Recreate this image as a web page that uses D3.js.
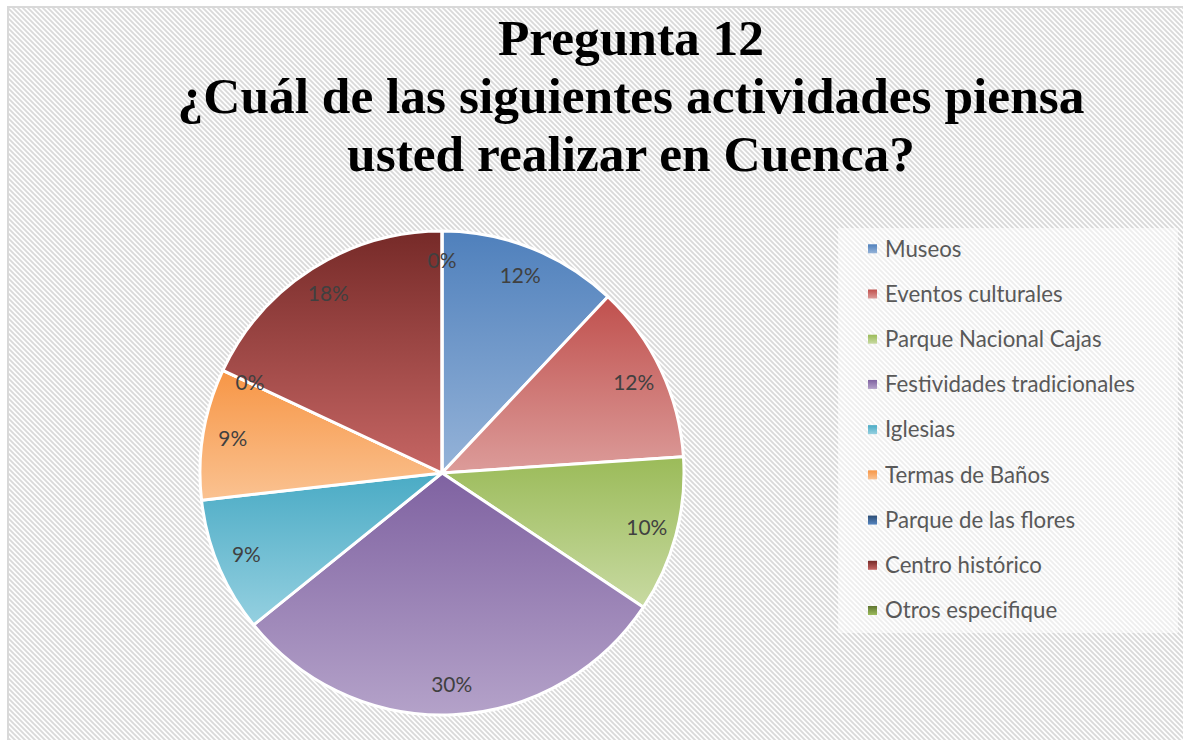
<!DOCTYPE html>
<html>
<head>
<meta charset="utf-8">
<script src="https://cdn.jsdelivr.net/npm/d3@7"></script>
<style>
  html, body { margin: 0; padding: 0; background: #ffffff; }
  svg { display: block; }
</style>
</head>
<body>
<svg id="chart" width="1183" height="740"></svg>
<script>
// ---- data ----
const titleLines = ["Pregunta 12", "¿Cuál de las siguientes actividades piensa", "usted realizar en Cuenca?"];
const categories = ["Museos", "Eventos culturales", "Parque Nacional Cajas", "Festividades tradicionales",
  "Iglesias", "Termas de Baños", "Parque de las flores", "Centro histórico", "Otros especifique"];
const values = [12.0, 11.9, 10.4, 29.8, 9.0, 8.75, 0, 18.0, 0];

// ---- palette (gradient top / bottom) ----
const topColors = ["#4f80bc", "#c0504d", "#9bbb59", "#7f62a1", "#4aabc5", "#f79646", "#2c4d75", "#762a28", "#5f7530"];
const bottomColors = ["#95b3d8", "#dc9c9a", "#c8daa2", "#b4a2c9", "#95d0e0", "#fac291", "#5585c0", "#c66664", "#9cbc5c"];

const W = 1183, H = 740;
const svg = d3.select("#chart");
const defs = svg.append("defs");

// background stripe pattern ("\" diagonal)
const p = 5;
const pat = defs.append("pattern").attr("id", "stripes").attr("patternUnits", "userSpaceOnUse")
  .attr("width", p).attr("height", p);
pat.append("rect").attr("width", p).attr("height", p).attr("fill", "#ffffff");
pat.append("path")
  .attr("d", `M${-p},0 L${p},${2*p} M0,${-p} L${2*p},${p} M${-p},${-p} L${2*p},${2*p}`)
  .attr("stroke", "#d9d9d9").attr("stroke-width", 1.8).attr("fill", "none");

// gradients
categories.forEach((c, i) => {
  const g = defs.append("linearGradient").attr("id", "grad" + i)
    .attr("x1", 0).attr("y1", 0).attr("x2", 0).attr("y2", 1);
  g.append("stop").attr("offset", "0%").attr("stop-color", topColors[i]);
  g.append("stop").attr("offset", "100%").attr("stop-color", bottomColors[i]);
});

// chart area
svg.append("rect").attr("x", 0).attr("y", 0).attr("width", W).attr("height", H).attr("fill", "#ffffff");
svg.append("rect").attr("x", 8).attr("y", 7).attr("width", W + 20).attr("height", H + 20)
  .attr("fill", "url(#stripes)").attr("stroke", "#d9d9d9").attr("stroke-width", 2);

// ---- title ----
const titleFont = "'Liberation Serif', 'Times New Roman', serif";
const probe = svg.append("text").attr("font-family", titleFont).attr("font-weight", "bold")
  .attr("font-size", 100).text(titleLines[1]);
const tw = probe.node().getComputedTextLength();
probe.remove();
const titleSize = 100 * 907 / tw;
const titleBaselines = [55, 113, 171];
svg.append("g").selectAll("text").data(titleLines).join("text")
  .attr("x", 631).attr("y", (d, i) => titleBaselines[i])
  .attr("text-anchor", "middle")
  .attr("font-family", titleFont).attr("font-weight", "bold")
  .attr("font-size", titleSize).attr("fill", "#000000")
  .text(d => d);

// ---- pie ----
const cx = 442, cy = 473, R = 242;
const pie = d3.pie().value(d => d).sort(null);
const arcs = pie(values);
const arc = d3.arc().innerRadius(0).outerRadius(R);
const labelArc = d3.arc().innerRadius(212).outerRadius(212);
const total = d3.sum(values);

const gp = svg.append("g").attr("transform", `translate(${cx},${cy})`);
gp.selectAll("path").data(arcs).join("path")
  .attr("d", arc)
  .attr("fill", (d, i) => `url(#grad${i})`)
  .attr("stroke", "#ffffff").attr("stroke-width", 3).attr("stroke-linejoin", "round");

const labelFont = "Lato, 'Open Sans', sans-serif";
const probe2 = svg.append("text").attr("font-family", labelFont).attr("font-size", 100).text("30%");
const lw = probe2.node().getComputedTextLength();
probe2.remove();
const labelSize = 100 * 41 / lw;

gp.selectAll("text").data(arcs).join("text")
  .attr("transform", d => `translate(${labelArc.centroid(d)})`)
  .attr("text-anchor", "middle").attr("dy", "0.35em")
  .attr("font-family", labelFont).attr("font-size", labelSize).attr("fill", "#404040")
  .text(d => Math.round(d.data / total * 100) + "%");

// ---- legend ----
svg.append("rect").attr("x", 838).attr("y", 228).attr("width", 340).attr("height", 405)
  .attr("fill", "#ffffff").attr("opacity", 0.55);

const probe3 = svg.append("text").attr("font-family", labelFont).attr("font-size", 100).text(categories[3]);
const legW = probe3.node().getComputedTextLength();
probe3.remove();
const legSize = 100 * 250 / legW;

const rowY = d3.scalePoint().domain(categories).range([248.8, 610.5]);
const lg = svg.append("g").selectAll("g").data(categories).join("g")
  .attr("transform", d => `translate(0,${rowY(d)})`);
lg.append("rect").attr("x", 868).attr("y", -4.5).attr("width", 9).attr("height", 9)
  .attr("fill", (d, i) => `url(#grad${i})`);
lg.append("text").attr("x", 885).attr("dy", "0.35em")
  .attr("font-family", labelFont).attr("font-size", legSize).attr("fill", "#595959")
  .text(d => d);
</script>
</body>
</html>
